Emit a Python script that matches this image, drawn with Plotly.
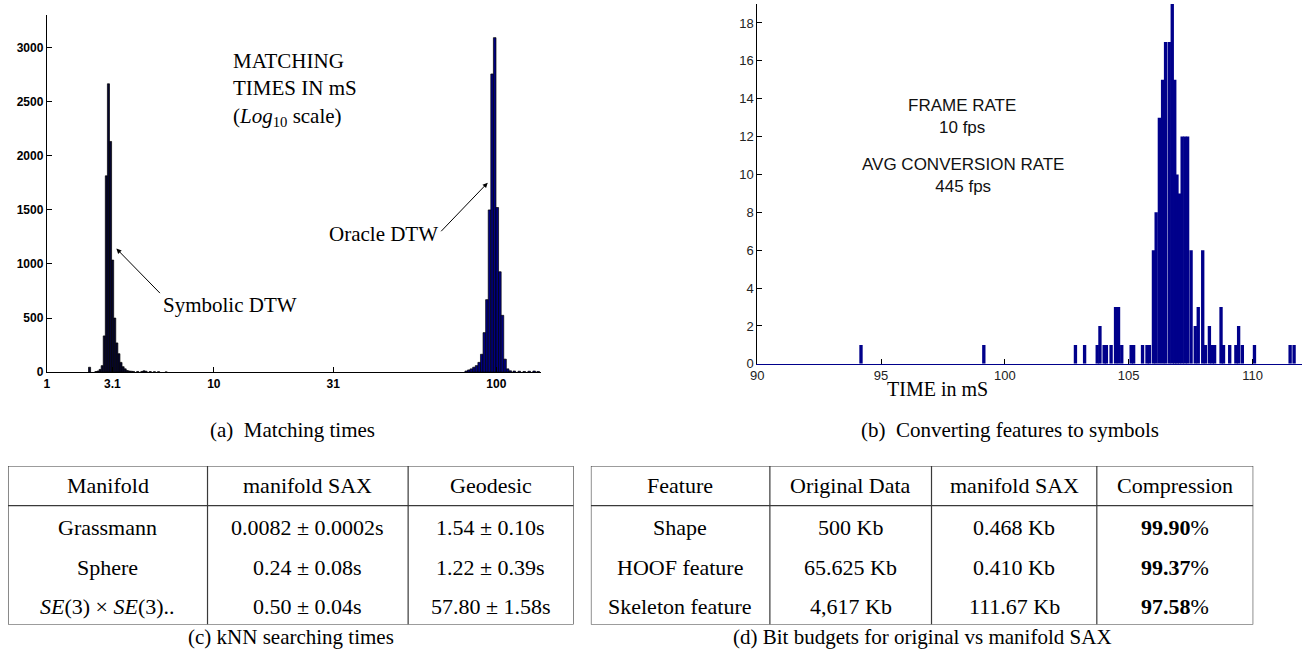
import plotly.graph_objects as go

W, H = 1304, 657

# ---------------- (a) Matching times (x in the chart's own warped log units) ----------------
MATCH_TICK_POS = [0.0, 0.292, 0.743, 1.274, 2.0]
MATCH_TICK_TEXT = ["1", "3.1", "10", "31", "100"]
MATCH_Y_TICKS = [0, 500, 1000, 1500, 2000, 2500, 3000]

SYM_X = [0.1903, 0.2186, 0.2279, 0.2372, 0.2465, 0.2558, 0.2650, 0.2743, 0.2836, 0.2929,
         0.3022, 0.3115, 0.3208, 0.3301, 0.3394, 0.3487, 0.3580, 0.3673, 0.3765, 0.3858,
         0.4044, 0.4230, 0.4323, 0.4416, 0.4602, 0.4788, 0.4973, 0.5310]
SYM_COUNT = [45, 5, 10, 25, 60, 335, 1815, 2666, 2133, 1036,
             500, 270, 170, 90, 50, 30, 15, 10, 8, 6,
             6, 6, 12, 8, 5, 4, 4, 2]

ORA_X = [1.8659, 1.8774, 1.8889, 1.9004, 1.9119, 1.9235, 1.9350, 1.9465, 1.9580, 1.9695,
         1.9810, 1.9925, 2.0040, 2.0155, 2.0270, 2.0385, 2.0500, 2.0615, 2.0796, 2.1018,
         2.1239, 2.1460, 2.1680, 2.1860]
ORA_COUNT = [10, 20, 30, 45, 60, 90, 165, 365, 670, 1500,
             2757, 3093, 1522, 928, 525, 120, 30, 12, 10, 8,
             6, 8, 10, 6]

# ---------------- (b) Converting features to symbols ----------------
CONV_TIME = [94.19, 99.15, 102.85, 103.22, 103.73, 103.84, 104.01, 104.10, 104.29, 104.47,
             104.59, 104.72, 105.10, 105.20, 105.56, 105.74, 105.84, 106.00, 106.11, 106.24,
             106.37, 106.49, 106.64, 106.76, 106.86, 106.95, 107.05, 107.16, 107.27, 107.38,
             107.52, 107.69, 107.81, 107.99, 108.10, 108.26, 108.37, 108.47, 108.73, 108.83,
             109.08, 109.33, 109.44, 109.59, 110.08, 111.52, 111.68]
CONV_COUNT = [1, 1, 1, 1, 1, 2, 1, 1, 1, 3,
              3, 1, 1, 1, 1, 1, 1, 6, 8, 13,
              15, 17, 17, 19, 15, 10, 9, 12, 12, 12,
              6, 2, 3, 6, 1, 2, 1, 1, 3, 1,
              1, 1, 2, 1, 1, 1, 1]
CONV_X_TICKS = [90, 95, 100, 105, 110]
CONV_Y_TICKS = [0, 2, 4, 6, 8, 10, 12, 14, 16, 18]

# ---------------- (c) kNN searching times ----------------
TC_HEADER = ["Manifold", "manifold SAX", "Geodesic"]
TC_MANIFOLD = ["Grassmann", "Sphere", "<i>SE</i>(3) × <i>SE</i>(3).."]
TC_SAX = ["0.0082 ± 0.0002s", "0.24 ± 0.08s", "0.50 ± 0.04s"]
TC_GEODESIC = ["1.54 ± 0.10s", "1.22 ± 0.39s", "57.80 ± 1.58s"]

# ---------------- (d) Bit budgets ----------------
TD_HEADER = ["Feature", "Original Data", "manifold SAX", "Compression"]
TD_FEATURE = ["Shape", "HOOF feature", "Skeleton feature"]
TD_ORIGINAL = ["500 Kb", "65.625 Kb", "4,617 Kb"]
TD_SAX = ["0.468 Kb", "0.410 Kb", "111.67 Kb"]
TD_COMPRESSION = ["99.90", "99.37", "97.58"]

CAPTIONS = ["(a)  Matching times", "(b)  Converting features to symbols",
            "(c) kNN searching times", "(d) Bit budgets for original vs manifold SAX"]


def px(x):
    return x / W


def py(y):
    return 1 - y / H


SERIF = "Liberation Serif, Times New Roman, serif"
SANS = "Liberation Sans, Arial, Helvetica, sans-serif"

fig = go.Figure()

fig.add_trace(go.Bar(x=SYM_X, y=SYM_COUNT, width=0.0093,
                     marker=dict(color="#06062e", line=dict(color="black", width=0.7)),
                     xaxis="x", yaxis="y"))
fig.add_trace(go.Bar(x=ORA_X, y=ORA_COUNT, width=0.0115,
                     marker=dict(color="#000080", line=dict(color="black", width=0.7)),
                     xaxis="x", yaxis="y"))
fig.add_trace(go.Bar(x=CONV_TIME, y=CONV_COUNT, width=0.135,
                     marker=dict(color="#00008B", line=dict(width=0)),
                     xaxis="x2", yaxis="y2"))

axis_common = dict(showgrid=False, zeroline=False, showline=True, linecolor="black", linewidth=1,
                   ticks="inside", ticklen=5, tickcolor="black", fixedrange=True)

fig.update_layout(
    width=W, height=H, margin=dict(l=0, r=0, t=0, b=0),
    paper_bgcolor="white", plot_bgcolor="rgba(0,0,0,0)",
    showlegend=False, barmode="overlay",
    xaxis=dict(domain=[px(40), px(537)], range=[0, 2.199], tickvals=MATCH_TICK_POS,
               ticktext=MATCH_TICK_TEXT, tickfont=dict(family=SANS, size=12, color="black", weight="bold"),
               anchor="y", **axis_common),
    yaxis=dict(domain=[py(376.7), py(15)], range=[0, 3304], tickvals=MATCH_Y_TICKS,
               tickfont=dict(family=SANS, size=12, color="black", weight="bold"),
               anchor="x", **axis_common),
    xaxis2=dict(domain=[px(754.3), px(1302)], range=[90, 112], tickvals=CONV_X_TICKS,
                tickfont=dict(family=SANS, size=13, color="#222"), anchor="y2",
                **{**axis_common, "linecolor": "#00008B"}),
    yaxis2=dict(domain=[py(368.3), py(4.1)], range=[0, 19], tickvals=CONV_Y_TICKS,
                tickfont=dict(family=SANS, size=13, color="#222"), anchor="x2", **axis_common),
    xaxis3=dict(domain=[px(1), px(569.7)], range=[0, 1], visible=False, fixedrange=True, anchor="y3"),
    yaxis3=dict(domain=[py(632.3), py(471.7)], range=[3.5, -0.5], visible=False, fixedrange=True, anchor="x3"),
    xaxis4=dict(domain=[px(587), px(1253)], range=[0, 1], visible=False, fixedrange=True, anchor="y4"),
    yaxis4=dict(domain=[py(632.3), py(471.7)], range=[3.5, -0.5], visible=False, fixedrange=True, anchor="x4"),
)

ann = []
shapes = []

# (a) texts and arrows
ann.append(dict(x=0.8186, y=3003, xref="x", yref="y", xanchor="left", yanchor="top", align="left",
                text="MATCHING<br>TIMES IN mS<br>(<i>Log</i><sub>10</sub> scale)", showarrow=False,
                font=dict(family=SERIF, size=21, color="black")))
ann.append(dict(x=0.509, y=618, xref="x", yref="y", xanchor="left", yanchor="middle",
                text="Symbolic DTW", showarrow=False, font=dict(family=SERIF, size=21, color="black")))
ann.append(dict(x=1.748, y=1276, xref="x", yref="y", xanchor="right", yanchor="middle",
                text="Oracle DTW", showarrow=False, font=dict(family=SERIF, size=21, color="black")))
ann.append(dict(x=0.3097, y=1142, xref="x", yref="y", ax=45, ay=46, axref="pixel", ayref="pixel",
                text="", showarrow=True, arrowhead=2, arrowsize=1, arrowwidth=1, arrowcolor="black"))
ann.append(dict(x=1.9615, y=1751, xref="x", yref="y", ax=-48, ay=50, axref="pixel", ayref="pixel",
                text="", showarrow=True, arrowhead=2, arrowsize=1, arrowwidth=1, arrowcolor="black"))

# (b) texts
ann.append(dict(x=98.26, y=13.06, xref="x2", yref="y2", xanchor="center", yanchor="middle",
                text="FRAME RATE<br>10 fps", showarrow=False,
                font=dict(family=SANS, size=17, color="#111")))
ann.append(dict(x=98.30, y=9.93, xref="x2", yref="y2", xanchor="center", yanchor="middle",
                text="AVG CONVERSION RATE<br>445 fps", showarrow=False,
                font=dict(family=SANS, size=17, color="#111")))
ann.append(dict(x=px(936), y=py(394), xref="paper", yref="paper", xanchor="center", yanchor="middle",
                text="TIME in mS", showarrow=False, font=dict(family=SERIF, size=20, color="black")))

# captions
cap_font = dict(family=SERIF, size=21, color="black")
for txt, cx, cy in zip(CAPTIONS, [287, 1008.6, 286, 920], [435, 435, 645, 645]):
    ann.append(dict(x=px(cx), y=py(cy), xref="paper", yref="paper", xanchor="center", yanchor="middle",
                    text=txt, showarrow=False, font=cap_font))


# tables
def add_table(xr, yr, col_widths, header, columns):
    tot = sum(col_widths)
    edges = [0]
    for w in col_widths:
        edges.append(edges[-1] + w / tot)
    line = dict(color="#3a3a3a", width=1.2)
    shapes.append(dict(type="rect", xref=xr, yref=yr, x0=0, x1=1, y0=-0.5, y1=3.5, line=line))
    for e in edges[1:-1]:
        shapes.append(dict(type="line", xref=xr, yref=yr, x0=e, x1=e, y0=-0.5, y1=3.5, line=line))
    shapes.append(dict(type="line", xref=xr, yref=yr, x0=0, x1=1, y0=0.5, y1=0.5, line=line))
    tf = dict(family=SERIF, size=22, color="black")
    for j, h in enumerate(header):
        cx = (edges[j] + edges[j + 1]) / 2
        ann.append(dict(x=cx, y=0, xref=xr, yref=yr, xanchor="center", yanchor="middle",
                        text=h, showarrow=False, font=tf))
        for i, v in enumerate(columns[j]):
            ann.append(dict(x=cx, y=i + 1.05, xref=xr, yref=yr, xanchor="center", yanchor="middle",
                            text=v, showarrow=False, font=tf))


add_table("x3", "y3", [200.6, 201.7, 166.4], TC_HEADER, [TC_MANIFOLD, TC_SAX, TC_GEODESIC])
add_table("x4", "y4", [180, 162.5, 166.2, 157.3], TD_HEADER,
          [TD_FEATURE, TD_ORIGINAL, TD_SAX, ["<b>%s</b>%%" % c for c in TD_COMPRESSION]])

fig.update_layout(annotations=ann, shapes=shapes)
fig.write_html("out.html")
